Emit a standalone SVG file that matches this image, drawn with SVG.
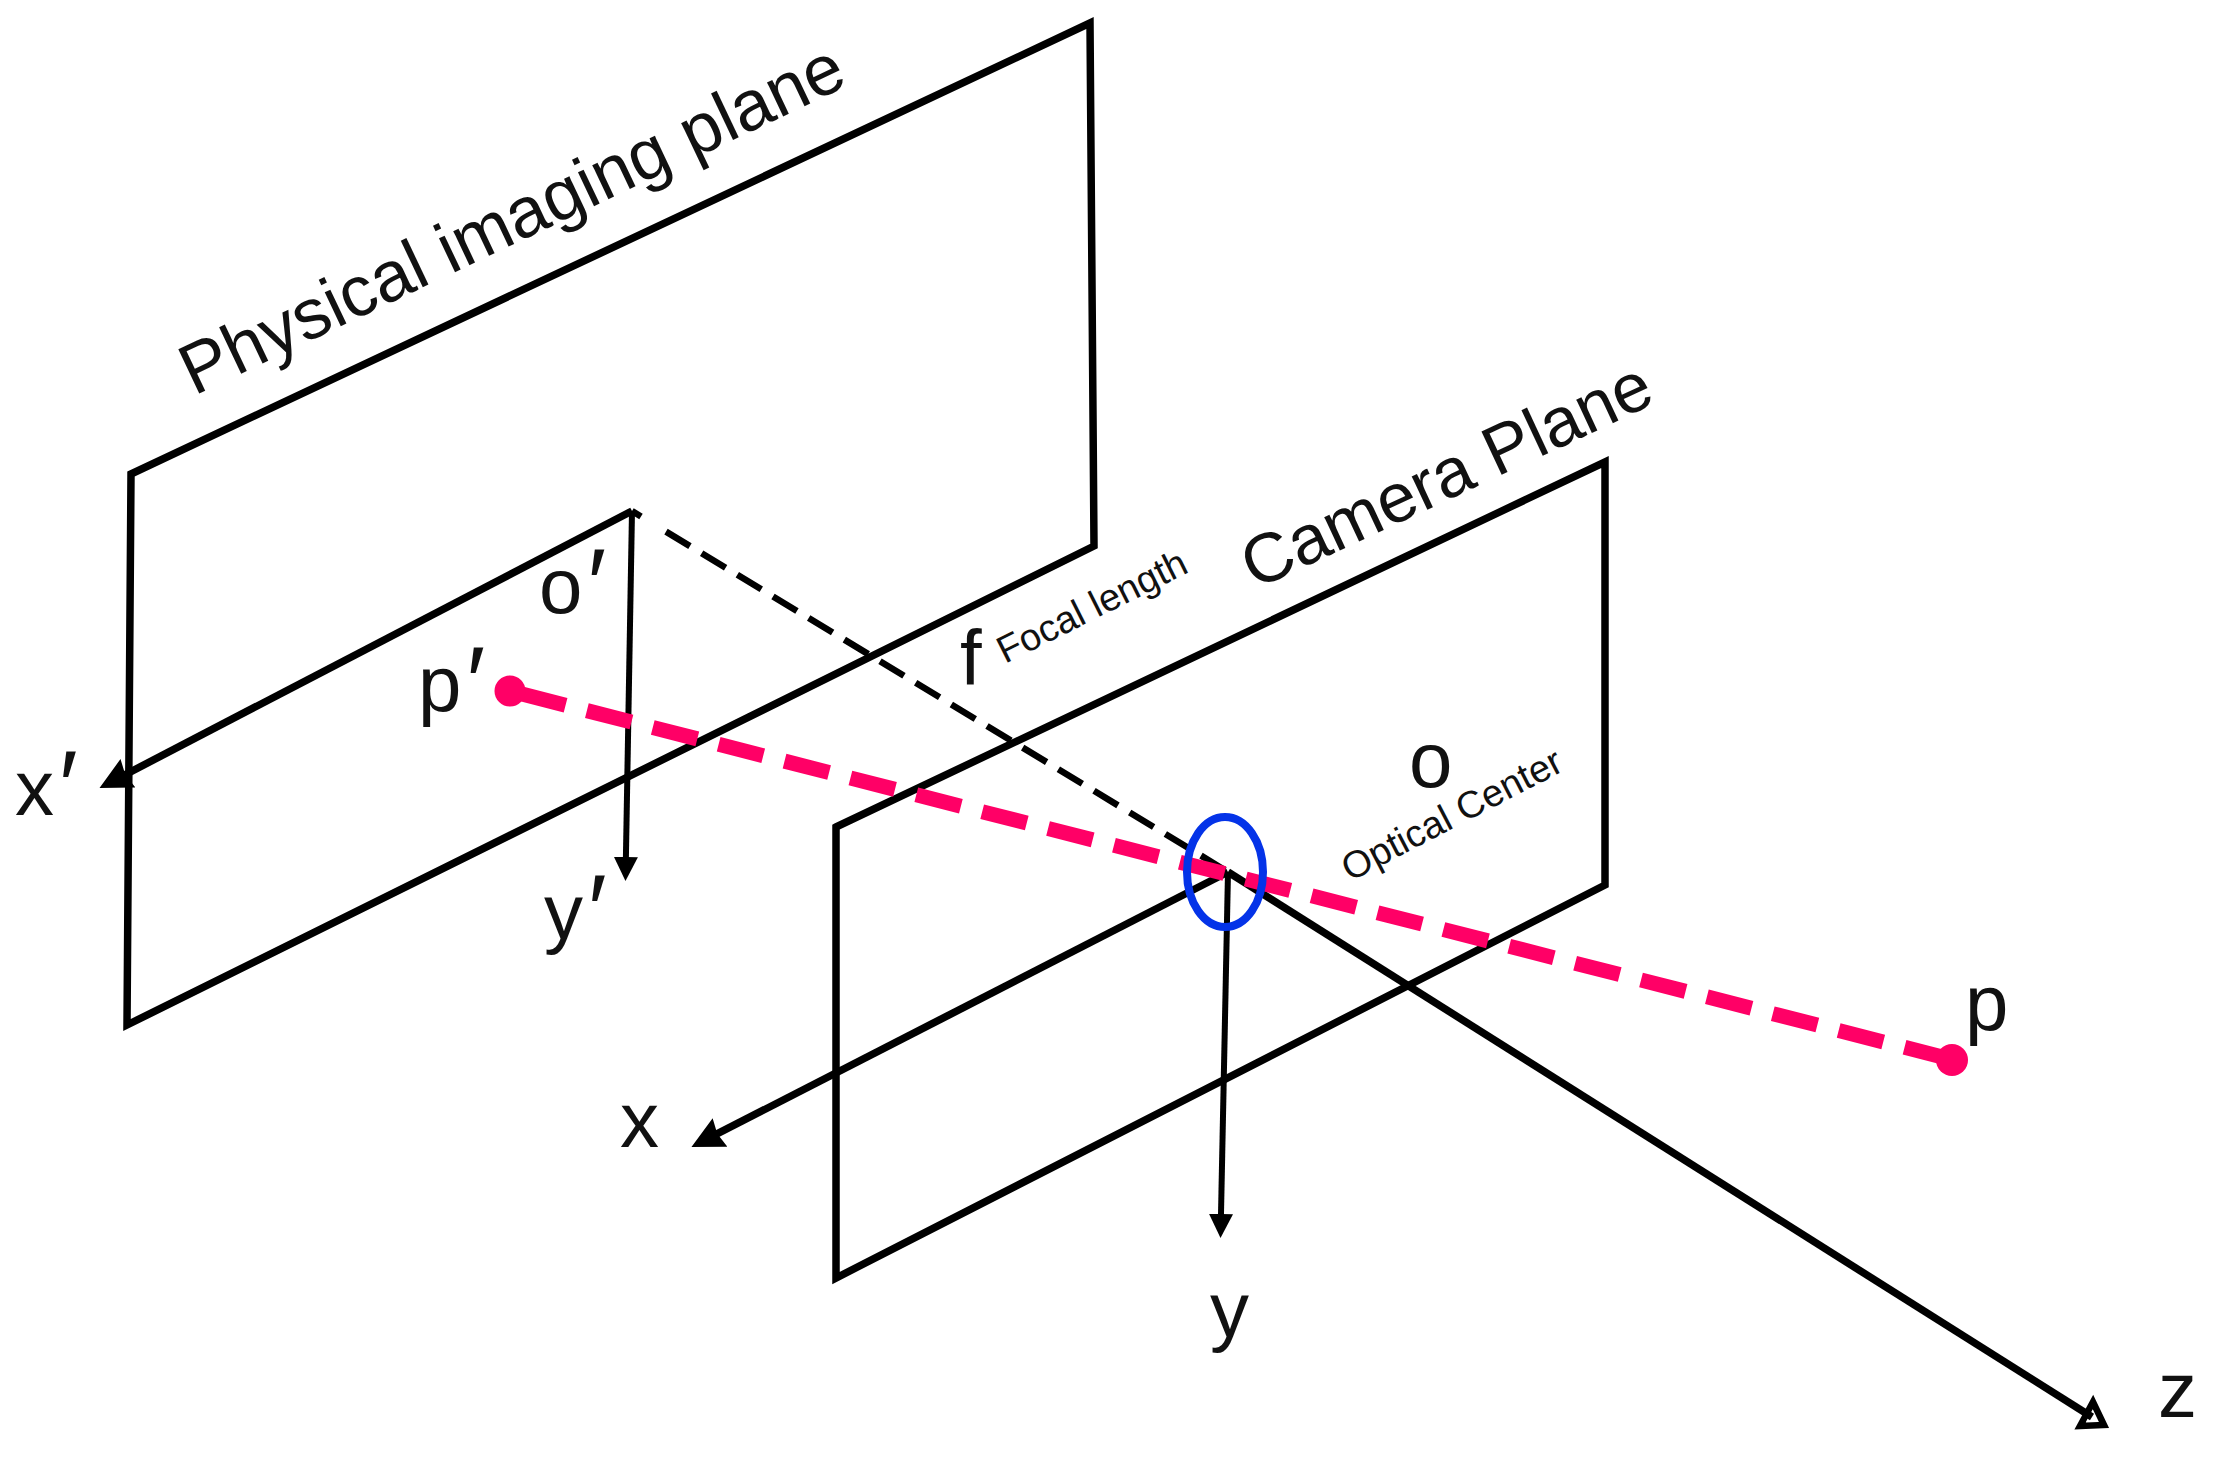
<svg xmlns="http://www.w3.org/2000/svg" width="2214" height="1462" viewBox="0 0 2214 1462">
<style>
text{font-family:"Liberation Sans",Arial,sans-serif;fill:#111}
.big{font-size:78px}
.title{font-size:71px}
.cam{font-size:69.5px}
.small{font-size:38px}
.pr{font-size:100px}
.plane{fill:none;stroke:#000;stroke-width:7.5}
.ax{fill:none;stroke:#000;stroke-width:7.5}
.ay{fill:none;stroke:#000;stroke-width:6}
.dash{fill:none;stroke:#000;stroke-width:6.5}
.red{fill:none;stroke:#ff0066;stroke-width:15;stroke-dasharray:46 22}
</style>
<defs>
<marker id="arr" markerUnits="userSpaceOnUse" markerWidth="36" markerHeight="36" refX="16" refY="16" orient="auto"><path d="M0 0L32 16L0 32L3 16Z" fill="#000"/></marker>
<marker id="arrs" markerUnits="userSpaceOnUse" markerWidth="28" markerHeight="28" refX="12" refY="12" orient="auto"><path d="M0 0L24 12L0 24Z" fill="#000"/></marker>
</defs>
<rect width="2214" height="1462" fill="#fff"/>
<g id="physical-plane"><path class="plane" d="M131 474L1090 23L1094 546L127 1025Z"/><text class="title" transform="translate(194 396) rotate(-25.4)">Physical imaging plane</text></g>
<g id="camera-plane"><path class="plane" d="M836 827L1605 462L1605 885L836 1278Z"/><text class="cam" transform="translate(1255 590) rotate(-25)">Camera Plane</text></g>
<g id="connectors">
<line class="ax" x1="632" y1="511" x2="113.7" y2="780.6" marker-end="url(#arr)"/>
<line class="ay" x1="632" y1="511" x2="625.7" y2="869" marker-end="url(#arrs)"/>
<line class="dash" x1="632" y1="511" x2="641" y2="516.5"/>
<line class="dash" stroke-dasharray="28 13.7" x1="666" y1="531.6" x2="1228" y2="872"/>
<line class="ax" x1="1228" y1="872" x2="705.7" y2="1139.7" marker-end="url(#arr)"/>
<line class="ay" x1="1228" y1="872" x2="1220.75" y2="1226" marker-end="url(#arrs)"/>
<line class="ax" x1="1228" y1="872" x2="2092" y2="1417"/>
<path d="M2093 1402L2104 1425L2080 1426Z" fill="none" stroke="#000" stroke-width="6.5"/>
<line class="red" x1="521" y1="693.8" x2="1958" y2="1061"/>
</g>
<g id="optical-center"><ellipse cx="1225" cy="872" rx="38" ry="55" fill="none" stroke="#0433e8" stroke-width="8"/><text class="big" x="1409" y="787">o</text><text class="small" transform="translate(1350 882) rotate(-27.5)">Optical Center</text></g>
<g id="point-p-prime"><circle cx="510" cy="691" r="15.5" fill="#ff0066"/><text class="big" x="418" y="711">p<tspan class="pr" dx="5" dy="6">′</tspan></text></g>
<g id="point-p"><circle cx="1952" cy="1060" r="16" fill="#ff0066"/><text class="big" x="1965" y="1030">p</text></g>
<g id="origin-prime"><text class="big" x="539" y="613">o<tspan class="pr" dx="5" dy="6">′</tspan></text></g>
<g id="label-x-prime"><text class="big" x="15" y="815">x<tspan class="pr" dx="5" dy="6">′</tspan></text></g>
<g id="label-y-prime"><text class="big" x="544" y="939">y<tspan class="pr" dx="5" dy="6">′</tspan></text></g>
<g id="label-x"><text class="big" x="620" y="1147">x</text></g>
<g id="label-y"><text class="big" x="1210" y="1337">y</text></g>
<g id="label-z"><text class="big" x="2158" y="1417">z</text></g>
<g id="focal-length"><text class="big" x="960" y="685">f</text><text class="small" transform="translate(1005 664) rotate(-26.5)">Focal length</text></g>
</svg>
